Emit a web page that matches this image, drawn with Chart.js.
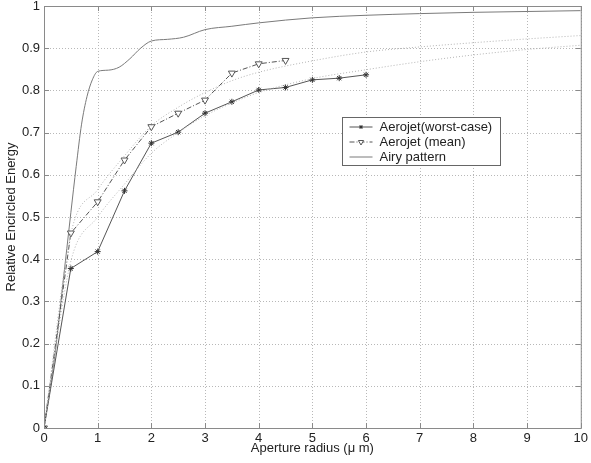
<!DOCTYPE html>
<html>
<head>
<meta charset="utf-8">
<script src="https://cdn.jsdelivr.net/npm/chart.js@4/dist/chart.umd.min.js"></script>
<style>
  html, body { margin: 0; padding: 0; background: #fff; }
  #wrap { width: 591px; height: 463px; }
</style>
</head>
<body>
<div id="wrap"><canvas id="eeChart" width="591" height="463"></canvas></div>
<script>
// values
const worstX = [0, 0.5, 1, 1.5, 2, 2.5, 3, 3.5, 4, 4.5, 5, 5.5, 6];
const worstY = [0, 0.378, 0.418, 0.562, 0.675, 0.701, 0.746, 0.773, 0.801, 0.807, 0.825, 0.829, 0.837];

const meanX = [0, 0.5, 1, 1.5, 2, 2.5, 3, 3.5, 4, 4.5];
const meanY = [0, 0.462, 0.536, 0.635, 0.714, 0.746, 0.777, 0.841, 0.863, 0.871];

const airyX = [0, 0.2, 0.35, 0.5, 0.6, 0.7, 0.8, 0.9, 1, 1.2, 1.4, 1.6, 1.8, 2, 2.3, 2.6, 3, 3.5, 4, 5, 6, 7, 8, 9, 10];
const airyY = [0, 0.17, 0.34, 0.51, 0.62, 0.72, 0.785, 0.825, 0.845, 0.848, 0.855, 0.875, 0.9, 0.917, 0.921, 0.926, 0.944, 0.952, 0.96, 0.972, 0.978, 0.982, 0.985, 0.987, 0.989];

// dotted fit curves
const fitX = [0, 0.5, 1, 1.5, 2, 2.5, 3, 3.5, 4, 5, 6, 7, 8, 9, 10];
const meanFitY = [0, 0.46, 0.565, 0.645, 0.716, 0.76, 0.795, 0.823, 0.843, 0.87, 0.891, 0.903, 0.913, 0.922, 0.93];
const worstFitY = [0, 0.395, 0.5, 0.578, 0.651, 0.7, 0.74, 0.77, 0.795, 0.828, 0.849, 0.868, 0.884, 0.897, 0.907];

const xTicks = [0, 1, 2, 3, 4, 5, 6, 7, 8, 9, 10];
const yTicks = [0, 0.1, 0.2, 0.3, 0.4, 0.5, 0.6, 0.7, 0.8, 0.9, 1];

const FONT = '"Liberation Sans", Arial, sans-serif';
const toPts = (xs, ys) => xs.map((x, i) => ({ x: x, y: ys[i] }));

// dotted grid drawn by hand
const gridPlugin = {
  id: 'dotGrid',
  beforeDatasetsDraw(chart) {
    const { ctx, chartArea: a, scales } = chart;
    ctx.save();
    ctx.strokeStyle = '#b8b8b8';
    ctx.lineWidth = 1;
    ctx.setLineDash([1, 2]);
    ctx.beginPath();
    xTicks.forEach(v => {
      const px = Math.round(scales.x.getPixelForValue(v)) + 0.5;
      ctx.moveTo(px, a.top); ctx.lineTo(px, a.bottom);
    });
    yTicks.forEach(v => {
      const py = Math.round(scales.y.getPixelForValue(v)) + 0.5;
      ctx.moveTo(a.left, py); ctx.lineTo(a.right, py);
    });
    ctx.stroke();
    ctx.restore();
  }
};

// box around the plot, inner ticks and the legend
const framePlugin = {
  id: 'frame',
  afterDatasetsDraw(chart) {
    const { ctx, chartArea: a, scales } = chart;
    ctx.save();
    ctx.strokeStyle = '#8a8a8a';
    ctx.lineWidth = 1;
    ctx.setLineDash([]);
    ctx.strokeRect(a.left + 0.5, a.top + 0.5, a.right - a.left, a.bottom - a.top);
    ctx.beginPath();
    xTicks.forEach(v => {
      const px = Math.round(scales.x.getPixelForValue(v)) + 0.5;
      ctx.moveTo(px, a.bottom); ctx.lineTo(px, a.bottom - 5);
      ctx.moveTo(px, a.top); ctx.lineTo(px, a.top + 5);
    });
    yTicks.forEach(v => {
      const py = Math.round(scales.y.getPixelForValue(v)) + 0.5;
      ctx.moveTo(a.left, py); ctx.lineTo(a.left + 5, py);
      ctx.moveTo(a.right, py); ctx.lineTo(a.right - 5, py);
    });
    ctx.stroke();

    // legend
    const shown = chart.data.datasets.filter(d => d.inLegend);
    const bx = 342.5, by = 117.5, bw = 158, bh = 48;
    ctx.fillStyle = '#fff';
    ctx.fillRect(bx, by, bw, bh);
    ctx.strokeStyle = '#666';
    ctx.strokeRect(bx, by, bw, bh);
    ctx.font = '13px ' + FONT;
    ctx.textBaseline = 'middle';
    shown.forEach((d, i) => {
      const y = by + 9.5 + i * 15;
      ctx.strokeStyle = d.borderColor;
      ctx.lineWidth = 1;
      ctx.setLineDash(d.borderDash || []);
      ctx.beginPath();
      ctx.moveTo(bx + 7, y); ctx.lineTo(bx + 30, y);
      ctx.stroke();
      ctx.setLineDash([]);
      if (d.pointRadius > 0) {
        ctx.fillStyle = d.pointBackgroundColor;
        ctx.strokeStyle = d.pointBorderColor;
        Chart.helpers.drawPoint(ctx, {
          pointStyle: d.pointStyle,
          rotation: d.pointRotation || 0,
          radius: d.pointRadius - 1,
          borderWidth: 1
        }, bx + 18.5, y);
      }
      ctx.fillStyle = '#222';
      ctx.fillText(d.label, bx + 37, y + 0.5);
    });
    ctx.restore();
  }
};

new Chart(document.getElementById('eeChart'), {
  type: 'line',
  data: {
    datasets: [
      {
        label: 'mean fit',
        data: toPts(fitX, meanFitY),
        borderColor: '#b4b4b4',
        borderWidth: 1,
        borderDash: [1, 2],
        pointRadius: 0,
        cubicInterpolationMode: 'monotone'
      },
      {
        label: 'worst fit',
        data: toPts(fitX, worstFitY),
        borderColor: '#b4b4b4',
        borderWidth: 1,
        borderDash: [1, 2],
        pointRadius: 0,
        cubicInterpolationMode: 'monotone'
      },
      {
        label: 'Aerojet(worst-case)',
        inLegend: true,
        data: toPts(worstX, worstY),
        borderColor: '#555',
        borderWidth: 1,
        pointStyle: 'star',
        pointRadius: 3,
        pointBorderColor: '#333',
        pointBackgroundColor: '#333',
        tension: 0
      },
      {
        label: 'Aerojet (mean)',
        inLegend: true,
        data: toPts(meanX, meanY),
        borderColor: '#555',
        borderWidth: 1,
        borderDash: [5, 2, 1, 2],
        pointStyle: 'triangle',
        pointRotation: 180,
        pointRadius: 4,
        pointBorderColor: '#555',
        pointBackgroundColor: '#fff',
        tension: 0
      },
      {
        label: 'Airy pattern',
        inLegend: true,
        data: toPts(airyX, airyY),
        borderColor: '#7a7a7a',
        borderWidth: 1,
        pointRadius: 0,
        cubicInterpolationMode: 'monotone'
      }
    ]
  },
  options: {
    responsive: false,
    animation: false,
    layout: { padding: { left: 4, right: 10, top: 6, bottom: 0 } },
    plugins: {
      legend: { display: false },
      tooltip: { enabled: false }
    },
    scales: {
      x: {
        type: 'linear',
        min: 0,
        max: 10,
        afterBuildTicks: s => { s.ticks = xTicks.map(v => ({ value: v })); },
        afterFit: s => { s.height = 35; },
        grid: { display: false, drawTicks: false },
        border: { display: false },
        ticks: { color: '#222', padding: 3, font: { family: FONT, size: 13 },
                 callback: v => String(v) },
        title: { display: true, text: 'Aperture radius (\u03BC m)', color: '#222',
                 padding: { top: 0, bottom: 7 }, font: { family: FONT, size: 13 } }
      },
      y: {
        type: 'linear',
        min: 0,
        max: 1,
        afterBuildTicks: s => { s.ticks = yTicks.map(v => ({ value: v })); },
        afterFit: s => { s.width = 40; s.paddingTop = 0; s.paddingBottom = 0; },
        grid: { display: false, drawTicks: false },
        border: { display: false },
        ticks: { color: '#222', padding: 4, font: { family: FONT, size: 13 },
                 callback: v => String(+v.toFixed(1)) },
        title: { display: true, text: 'Relative Encircled Energy', color: '#222',
                 padding: 0, font: { family: FONT, size: 13 } }
      }
    }
  },
  plugins: [gridPlugin, framePlugin]
});
</script>
</body>
</html>
